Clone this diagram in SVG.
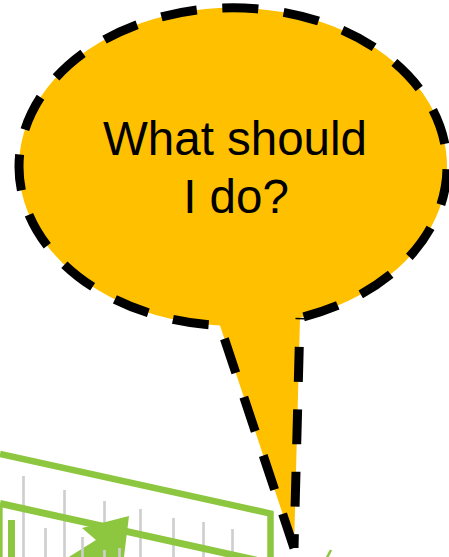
<svg xmlns="http://www.w3.org/2000/svg" width="449" height="557" viewBox="0 0 449 557">
<style>
.grid{stroke:#CFCFCF;stroke-width:2.7;fill:none}
.gl{stroke:#8DC63F;fill:none}
.dash{fill:none;stroke:#000;stroke-width:9;stroke-linecap:butt}
.lbl{font-family:"Liberation Sans",Arial,sans-serif;font-size:47.5px;fill:#000;text-anchor:middle}
</style>
<g id="chart">
<g id="grid-back">
<line class="grid" x1="23.5" y1="476" x2="23.5" y2="557"/>
<line class="grid" x1="64.5" y1="490" x2="64.5" y2="557"/>
<line class="grid" x1="104.5" y1="501" x2="104.5" y2="557"/>
<line class="grid" x1="140.5" y1="509" x2="140.5" y2="557"/>
<line class="grid" x1="173.5" y1="518" x2="173.5" y2="557"/>
<line class="grid" x1="203.5" y1="522" x2="203.5" y2="557"/>
<line class="grid" x1="232.5" y1="529" x2="232.5" y2="557"/>
</g>
<polyline class="gl" stroke-width="6.5" stroke-linejoin="miter" points="0,454 270.5,513.5 270.5,560"/>
<line class="gl" stroke-width="7" x1="0" y1="503.5" x2="256" y2="560"/>
<line class="gl" stroke-width="2.7" x1="1.3" y1="505" x2="1.3" y2="560"/>
<rect x="8" y="520" width="7" height="40" fill="#8DC63F"/>
<polygon fill="#8DC63F" points="64,560 96,540 82,528 129,516 123.6,560"/>
<g id="grid-front">
<line class="grid" x1="45.5" y1="528" x2="45.5" y2="557"/>
<line class="grid" x1="82.5" y1="537" x2="82.5" y2="557"/>
<line class="grid" x1="119.5" y1="548" x2="119.5" y2="557"/>
<line class="grid" x1="104.5" y1="550" x2="104.5" y2="557"/>
</g>
<line class="gl" stroke-width="2.5" x1="331" y1="550" x2="327" y2="557.5"/>
</g>
<g id="callout">
<path fill="#FFC000" d="M294,548 L220,325.5 A214,159 0 1 1 300,317.8 Z"/>
<path class="dash" stroke-dasharray="36 25.5" d="M294,548 L220,325.5 A214,159 0 1 1 300,317.8"/>
<path class="dash" stroke-dasharray="35 27.5" stroke-dashoffset="33.5" d="M300,317.8 L294,548"/>
<text class="lbl" x="235" y="155">What should</text>
<text class="lbl" x="236" y="213">I do?</text>
</g>
</svg>
